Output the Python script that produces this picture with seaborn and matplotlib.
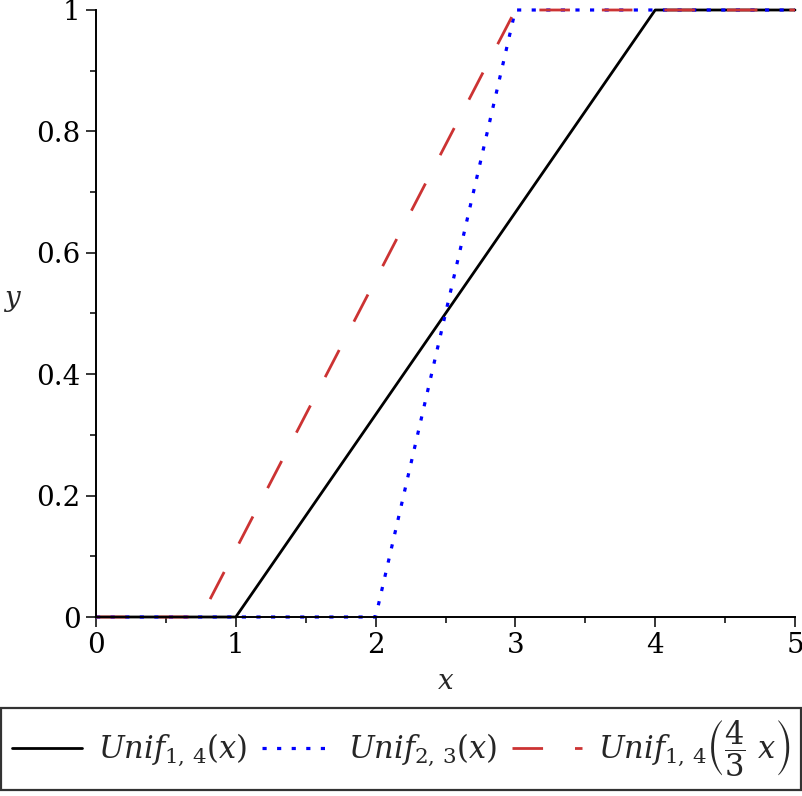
import numpy as np
import matplotlib
matplotlib.use("Agg")
import matplotlib.pyplot as plt
import seaborn as sns

# breakpoints of the three piecewise-linear CDFs
x_unif14 = [0, 1, 4, 5]
y_unif14 = [0, 0, 1, 1]
x_unif23 = [0, 2, 3, 5]
y_unif23 = [0, 0, 1, 1]
x_scaled = [0, 0.75, 3, 5]
y_scaled = [0, 0, 1, 1]

labels = [r"$\mathit{Unif}_{1,\,4}(x)$",
          r"$\mathit{Unif}_{2,\,3}(x)$",
          r"$\mathit{Unif}_{1,\,4}\left(\dfrac{4}{3}\ x\right)$"]
xticks = [0, 1, 2, 3, 4, 5]
yticks = [0, 0.2, 0.4, 0.6, 0.8, 1]
ytick_labels = ["0", "0.2", "0.4", "0.6", "0.8", "1"]

sns.set_style("ticks")
plt.rcParams["font.family"] = ["DejaVu Serif"]
plt.rcParams["mathtext.fontset"] = "dejavuserif"
plt.rcParams["lines.scale_dashes"] = False

fig = plt.figure(figsize=(8.03, 7.96), dpi=100)
ax = fig.add_axes([96 / 803, 179 / 796, 699 / 803, 607 / 796])

sns.lineplot(x=x_unif14, y=y_unif14, ax=ax, color="black", linewidth=2.0,
             clip_on=False, label=labels[0])
sns.lineplot(x=x_unif23, y=y_unif23, ax=ax, color="#0000ff", linewidth=2.3,
             linestyle=(0, (3, 7.5)), clip_on=False, label=labels[1])
sns.lineplot(x=x_scaled, y=y_scaled, ax=ax, color="#cc3333", linewidth=2.0,
             linestyle=(0, (22, 23)), clip_on=False, label=labels[2])

ax.set_xlim(0, 5)
ax.set_ylim(0, 1)
ax.set_xticks(xticks)
ax.set_xticklabels([str(t) for t in xticks])
ax.set_yticks(yticks)
ax.set_yticklabels(ytick_labels)
ax.set_xticks(np.arange(0.5, 5, 1.0), minor=True)
ax.set_yticks(np.arange(0.1, 1.0, 0.2), minor=True)
ax.tick_params(axis="both", which="major", direction="out", length=7, width=1.1,
               labelsize=20, pad=4, color="black", labelcolor="black")
ax.tick_params(axis="both", which="minor", direction="out", length=4.5, width=1.1,
               color="black")

sns.despine(ax=ax)
for side in ["left", "bottom"]:
    ax.spines[side].set_linewidth(1.4)
    ax.spines[side].set_color("black")

ax.set_xlabel(r"$x$", fontsize=20, labelpad=6)
ax.set_ylabel(r"$y$", fontsize=20, rotation=0, labelpad=12)
ax.yaxis.set_label_coords(-0.12, 0.5)

handles, labs = ax.get_legend_handles_labels()
ax.get_legend().remove()
leg = fig.legend(handles, labs, loc="center", bbox_to_anchor=(401 / 803, 47 / 796),
                 ncol=3, fontsize=22, frameon=True, fancybox=False,
                 edgecolor="black", handlelength=2.3, handletextpad=0.5,
                 columnspacing=0.5, borderpad=0.35, borderaxespad=0)
leg.get_frame().set_linewidth(1.6)

fig.savefig("out.png", dpi=100)
